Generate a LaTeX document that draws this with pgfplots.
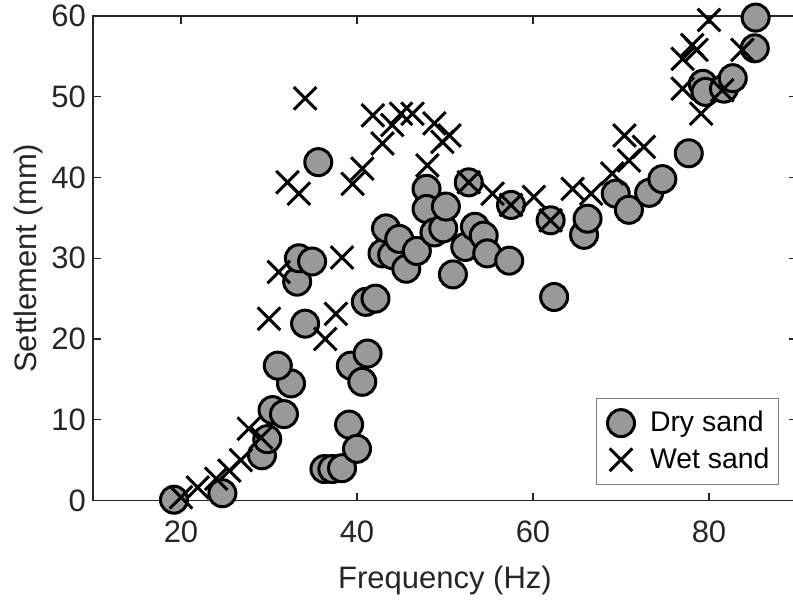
\documentclass[border=0pt]{standalone}
\usepackage{pgfplots}
\pgfplotsset{compat=1.18}
\usepackage{fontspec}
\setmainfont{Liberation Sans}
\definecolor{axgray}{HTML}{262626}
\definecolor{dotgray}{HTML}{999999}
\begin{document}
\begin{tikzpicture}
\begin{axis}[
  scale only axis, width=352pt, height=242.25pt,
  xmin=10, xmax=90, ymin=0, ymax=60,
  xtick={20,40,60,80}, ytick={0,10,...,60},
  tick align=inside, major tick length=4pt,
  axis line style={axgray, line width=0.6pt},
  every tick/.style={axgray, line width=0.6pt},
  /pgf/number format/assume math mode=true,
  tick label style={font=\fontsize{15.5}{18}\selectfont, text=axgray},
  xticklabel style={yshift=-6.5pt},
  xlabel={Frequency (Hz)}, ylabel={Settlement (mm)},
  label style={font=\fontsize{15.5}{18}\selectfont, text=axgray},
  xlabel style={yshift=-5pt},
  ylabel style={yshift=-2.5pt},
  legend style={at={(0.9744,0.032)}, anchor=south east, draw=gray, line width=0.5pt,
    font=\fontsize{14.2}{16}\selectfont, row sep=2.5pt, inner xsep=2.5pt, inner ysep=4.5pt},
  legend cell align=left,
  legend image code/.code={\path[draw=none, fill=none] (-10pt,-7.5pt) rectangle (12.5pt,7.5pt);
    \draw[#1, mark repeat=1] plot coordinates {(0pt,0pt)};},
]
\addplot[only marks, mark=*, mark size=6.75pt, draw=black, fill=dotgray, line width=1.5pt]
coordinates {
(19.2,0.1) (24.7,0.9) (29.2,5.6) (29.8,7.6) (30.4,11.2) (31.7,10.7) (32.5,14.5) (31.0,16.7)
(33.2,27.1) (33.4,30.0) (34.9,29.6) (34.1,21.9) (35.6,41.9) (36.3,3.9) (37.2,3.9) (38.3,4.0)
(39.1,9.4) (40.0,6.4) (39.3,16.7) (40.6,14.7) (41.2,18.2) (41.0,24.6) (42.1,25.0) (42.9,30.6)
(43.3,33.7) (44.0,30.4) (44.8,32.4) (45.6,28.7) (46.8,30.9) (47.9,38.6) (47.9,36.1) (48.8,33.2)
(49.8,33.7) (50.1,36.4) (50.9,28.0) (52.3,31.4) (52.7,39.4) (53.4,33.9) (54.4,32.8) (54.8,30.6)
(57.3,29.7) (57.5,36.6) (62.0,34.7) (62.4,25.2) (65.8,32.9) (66.2,34.9) (69.4,38.0) (70.9,36.0)
(73.2,38.1) (74.7,39.8) (77.7,43.0) (79.3,51.6) (79.6,50.6) (81.7,51.0) (82.7,52.3) (85.2,56.0)
(85.3,59.8)
};
\addlegendentry{Dry sand}
\addplot[only marks, mark=x, mark size=8pt, draw=black, line width=1.5pt]
coordinates {
(20.0,0.4) (21.9,1.6) (24.0,2.7) (25.5,3.7) (26.8,5.0) (27.7,8.9) (29.1,7.8) (30.0,22.5)
(31.1,28.3) (32.1,39.4) (33.4,38.0) (34.1,49.8) (36.4,20.0) (37.6,23.1) (38.3,30.1) (39.5,39.2)
(40.6,41.1) (41.8,47.7) (42.9,44.2) (44.0,46.5) (45.0,47.9) (46.3,47.9) (48.0,41.5) (48.8,46.7)
(49.7,44.4) (50.5,45.2) (52.7,39.4) (55.4,38.0) (57.5,36.6) (60.1,37.6) (62.0,34.7) (64.5,38.6)
(66.6,38.0) (69.0,40.5) (70.4,45.2) (70.9,42.1) (72.6,43.8) (77.0,51.0) (77.0,54.7) (78.1,56.4)
(78.6,55.8) (79.1,47.9) (80.0,59.5) (81.5,50.8) (83.8,55.8)
};
\addlegendentry{Wet sand}
\coordinate (bl) at (rel axis cs:0,0);
\coordinate (tr) at (rel axis cs:1,1);
\end{axis}
\pgfresetboundingbox
\path ([xshift=-46.5pt,yshift=-49.25pt]bl) rectangle ([xshift=-2pt,yshift=8pt]tr);
\end{tikzpicture}
\end{document}
